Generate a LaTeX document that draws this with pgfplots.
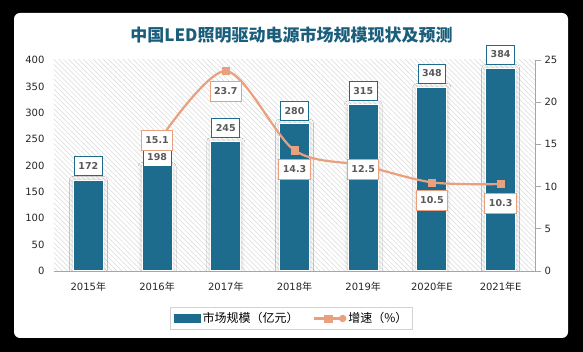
\documentclass[border=0pt]{standalone}
\usepackage{pgfplots}
\pgfplotsset{compat=1.18}
\usepackage{pgfplotstable}
\usepackage{fontspec}
\setmainfont{DejaVu Sans}
\newfontfamily\cjk{Noto Sans CJK SC}
\usetikzlibrary{patterns.meta,shadows.blur}
\definecolor{barcol}{HTML}{1D6C8E}
\definecolor{linecol}{HTML}{E9A07F}
\definecolor{titlecol}{HTML}{1B5E7B}
\definecolor{lblcol}{HTML}{595959}

\pgfplotsset{/pgf/number format/assume math mode=true,
  linelegend/.style={legend image code/.code={\draw[##1] (0pt,0pt) -- (29pt,0pt); \fill[linecol] (29pt,0pt) circle (2.5pt); \draw[##1,mark=square*] plot coordinates {(14.5pt,0pt)};}}}

\pgfplotstableread{
x y off
0 172 4
1 198 0
2 245 4
3 280 2
4 315 4
5 348 4
6 384 4
}\bardata
\pgfplotstableread{
x y lbl off
1 15.1 15.1 3
2 23.7 23.7 -20
3 14.3 14.3 -19
4 12.5 12.5 -4
5 10.5 10.5 -18
6 10.3 10.3 -19
}\linedata

\begin{document}
\begin{tikzpicture}[x=1pt,y=1pt]
\fill[black] (0,0) rectangle (583,352);
\fill[white,rounded corners=6pt] (14,14) rectangle (568,339);
\node[font=\cjk\bfseries\fontsize{17}{20}\selectfont, text=titlecol] at (291.5,317) {中国LED照明驱动电源市场规模现状及预测};
\begin{axis}[
  at={(54pt,81pt)}, anchor=south west,
  scale only axis, width=481pt, height=211pt,
  xmin=-0.5, xmax=6.5, ymin=0, ymax=400,
  ytick={0,50,...,400},
  xtick={0,...,6},
  xticklabels={2015{\cjk 年},2016{\cjk 年},2017{\cjk 年},2018{\cjk 年},2019{\cjk 年},2020{\cjk 年}E,2021{\cjk 年}E},
  axis x line*=bottom, axis y line*=left,
  y axis line style={draw=none},
  x axis line style={draw=gray!70, line width=0.8pt},
  tick style={draw=none},
  ticklabel style={font=\fontsize{10}{12}\selectfont, text=black!85},
  yticklabel style={xshift=-6pt},
  xticklabel style={yshift=-8pt},
  axis background/.style={pattern={Lines[angle=-45, distance=3.5pt, line width=0.5pt]}, pattern color=gray!30},
]
\addplot[ybar, bar width=0.437, bar shift=0pt, draw=none, fill=none,
  blur shadow={shadow xshift=0pt, shadow yshift=0pt, shadow blur radius=4pt, shadow opacity=22, shadow blur steps=10}]
  table[x=x,y=y]{\bardata};
\addplot[ybar, bar width=0.437, bar shift=0pt, fill=barcol, draw=white, line width=1pt,
  nodes near coords,
  visualization depends on={\thisrow{off}\as\boff},
  every node near coord/.append style={draw=barcol, fill=white, line width=0.9pt,
    font=\bfseries\fontsize{9.5}{11}\selectfont, text=lblcol, inner xsep=4pt, inner ysep=3.5pt,
    minimum height=19pt, anchor=south, yshift=\boff}]
  table[x=x,y=y]{\bardata};
\end{axis}
\begin{axis}[
  at={(54pt,81pt)}, anchor=south west,
  scale only axis, width=481pt, height=211pt,
  xmin=-0.5, xmax=6.5, ymin=0, ymax=25,
  ytick={0,5,...,25},
  axis y line*=right, axis x line=none,
  y axis line style={draw=gray!70, line width=0.8pt},
  ytick style={draw=gray!70, line width=0.8pt},
  tick align=outside, major tick length=6pt,
  ticklabel style={font=\fontsize{10}{12}\selectfont, text=black!85},
  legend style={at={(0.494,-0.225)}, anchor=center, legend columns=2, draw=gray!35, line width=0.8pt,
    font=\cjk\fontsize{12}{14}\selectfont, inner sep=3pt,
    /tikz/every even column/.append style={column sep=12pt}},
  legend cell align=left,
]
\addlegendimage{legend image code/.code={\fill[barcol] (0pt,-4pt) rectangle (26pt,4pt);}}
\addlegendentry{市场规模（亿元）}
\addplot[linecol, line width=2.2pt, smooth, mark=square*, mark size=3.6pt, mark options={fill=linecol, draw=linecol, line width=0.5pt},
  nodes near coords, point meta=explicit symbolic,
  visualization depends on={\thisrow{off}\as\myoff},
  every node near coord/.append style={draw=linecol, fill=white, line width=0.9pt,
    font=\bfseries\fontsize{9.5}{11}\selectfont, text=lblcol, inner xsep=4pt, inner ysep=3.5pt,
    minimum height=20pt, anchor=center, yshift=\myoff},
  linelegend]
  table[x=x,y=y,meta=lbl]{\linedata};
\addlegendentry{增速（\%）}
\end{axis}
\end{tikzpicture}
\end{document}
